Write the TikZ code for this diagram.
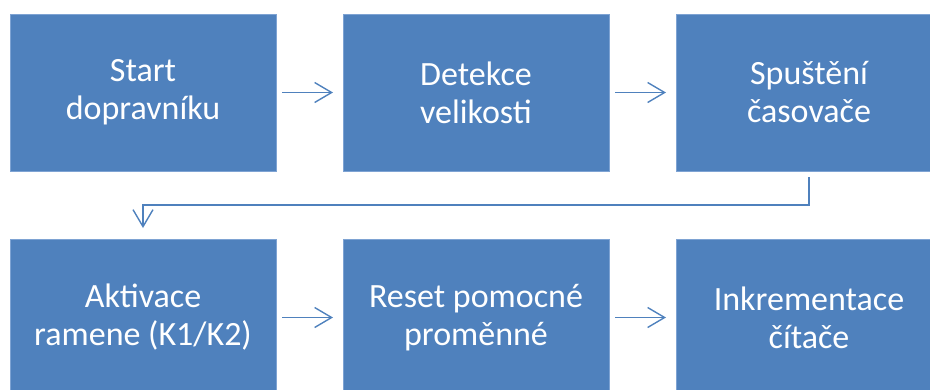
\documentclass[tikz,border=0pt]{standalone}
\usepackage{fontspec}
\setmainfont{Carlito}
\usetikzlibrary{positioning,arrows.meta}
\definecolor{boxblue}{RGB}{79,129,189}
\definecolor{edgeblue}{RGB}{126,163,211}
\tikzset{
    stepbox/.style={rectangle, fill=boxblue, draw=edgeblue, line width=0.6pt,
        minimum width=266pt, minimum height=157pt, inner sep=0pt, outer sep=0pt,
        text=white, align=center, font=\fontsize{34}{38}\selectfont},
    flow/.style={draw=boxblue, line width=1.4pt,
        -{Straight Barb[length=17pt,width=20pt,line width=1.4pt]}}
}
\begin{document}
\begin{tikzpicture}[x=1pt, y=-1pt]
                \useasboundingbox (0,0) rectangle (930,389);
                \node[stepbox] (start) at (143,92.5) {Start\\dopravníku};
                \node[stepbox, right=67pt of start] (detekce) {Detekce\\velikosti};
                \node[stepbox, right=67pt of detekce] (casovac) {Spuštění\\časovače};
                \node[stepbox, below=68pt of start] (rameno) {Aktivace\\ramene (K1/K2)};
                \node[stepbox, right=67pt of rameno] (reset) {Reset pomocné\\proměnné};
                \node[stepbox, right=67pt of reset] (citac) {Inkrementace\\čítače};
                \coordinate (turn) at ([yshift=-34pt]casovac.south);
                \draw[flow, shorten <=6pt, shorten >=10pt] (start) -- (detekce);
                \draw[flow, shorten <=6pt, shorten >=10pt] (detekce) -- (casovac);
                \draw[flow, shorten <=6pt, shorten >=11pt] (casovac.south) -- (turn) -| (rameno.north);
                \draw[flow, shorten <=6pt, shorten >=10pt] (rameno) -- (reset);
                \draw[flow, shorten <=6pt, shorten >=10pt] (reset) -- (citac);
            \end{tikzpicture}
\end{document}
